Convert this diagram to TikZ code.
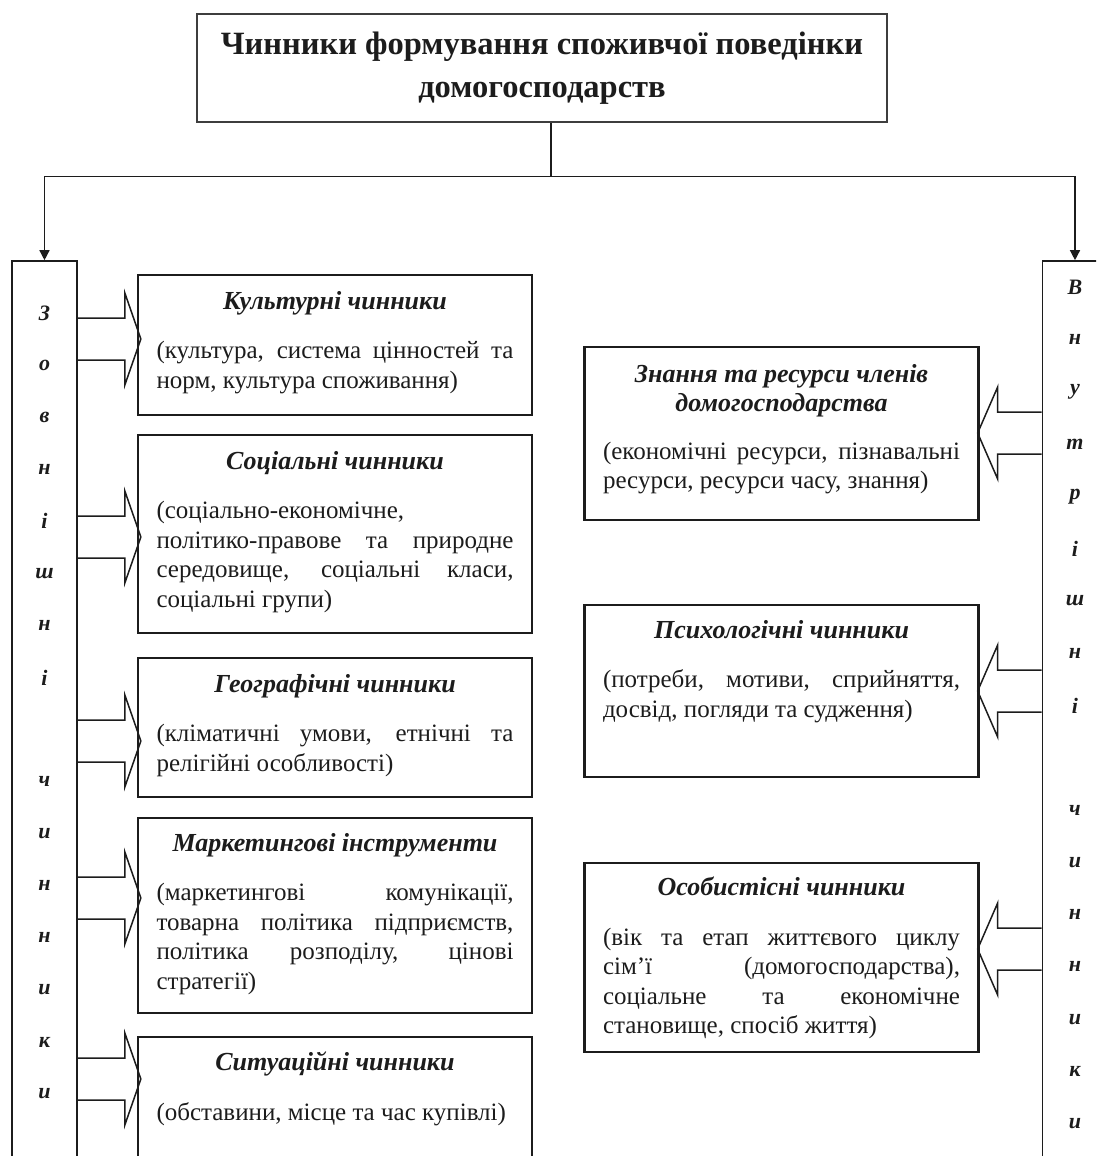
\documentclass[tikz,border=0pt]{standalone}
\usepackage{fontspec}
\setmainfont{Liberation Serif}
\usetikzlibrary{arrows.meta,positioning,calc}
\definecolor{ink}{HTML}{1C1C1C}
\tolerance=10000 \hbadness=10000 \hyphenpenalty=10000 \exhyphenpenalty=10000
\tikzset{
  headbox/.style={draw=ink!85,line width=2.6pt,minimum width=690pt,minimum height=108pt,align=center,font=\fontsize{32.5}{43}\selectfont\bfseries,text=ink},
  sidebox/.style={draw=ink,line width=1.6pt,minimum width=65pt,minimum height=940pt,inner sep=0pt},
  factor/.style={draw=ink,line width=2.3pt,minimum width=394pt,inner sep=0pt},
  factortext/.style={anchor=north,text width=357pt,inner sep=0pt,align=justify,font=\fontsize{25}{29.5}\selectfont,text=ink},
  letter/.style={font=\fontsize{22}{22}\selectfont\bfseries\itshape,text=ink,inner sep=0pt},
  link/.style={draw=ink,line width=1.4pt,-{Triangle[length=10pt,width=10pt]}},
  fatright/.style={draw=ink,line width=1.5pt,to path={let \p1=(\tikztostart),\p2=(\tikztotarget) in
    (\x1,\y1+21pt) -- (\x2-12pt,\y1+21pt) -- (\x2-12pt,\y1+46pt) -- (\x2+4pt,\y1) -- (\x2-12pt,\y1-46pt) -- (\x2-12pt,\y1-21pt) -- (\x1,\y1-21pt)}},
  fatleft/.style={draw=ink,line width=1.5pt,to path={let \p1=(\tikztostart),\p2=(\tikztotarget) in
    (\x1,\y1+21pt) -- (\x2+18pt,\y1+21pt) -- (\x2+18pt,\y1+46pt) -- (\x2-2pt,\y1) -- (\x2+18pt,\y1-46pt) -- (\x2+18pt,\y1-21pt) -- (\x1,\y1-21pt)}}
}
\newcommand{\ftitle}[2][20pt]{{\centering\fontsize{26}{29.5}\selectfont\bfseries\itshape #2\par}\vspace{#1}}

\begin{document}
\begin{tikzpicture}[x=1pt,y=-1pt]
  \useasboundingbox (0,0) rectangle (1096,1156);
  \clip (0,0) rectangle (1096,1156);

  \node[headbox] (title) at (542,68) {Чинники формування споживчої поведінки\\домогосподарств};
  \node[sidebox] (ext) at (44.5,731) {};
  \node[sidebox] (int) at (1075,731) {};

  \draw[draw=ink,line width=1.4pt] ([xshift=9pt]title.south) -- ++(0,53) coordinate (split);
  \draw[link] (split) -| (ext.north);
  \draw[link] (split) -| (int.north);

  \foreach \c [count=\i from 0] in {З,о,в,н,і,ш,н,і,{},ч,и,н,н,и,к,и}
    \node[letter] (ext-\i) at (44.5,313+52.07*\i) {\c};
  \foreach \c [count=\i from 0] in {В,н,у,т,р,і,ш,н,і,{},ч,и,н,н,и,к,и}
    \node[letter] (int-\i) at (1075,287+52.3*\i) {\c};

  % outside factors
  \node[factor,minimum height=140pt] (cult) at (335,345) {};
  \node[factortext] (cult-t) at ([yshift=-17pt]cult.north) {\ftitle{Культурні чинники}(культура, система цінностей та\linebreak норм, культура споживання)};
  \node[factor,minimum height=198pt] (soc) at (335,534) {};
  \node[factortext] (soc-t) at ([yshift=-17pt]soc.north) {\ftitle{Соціальні чинники}(соціально-економічне,\newline політико-правове та природне\linebreak середовище, соціальні класи,\linebreak соціальні групи)};
  \node[factor,minimum height=139pt] (geo) at (335,727.5) {};
  \node[factortext] (geo-t) at ([yshift=-17pt]geo.north) {\ftitle{Географічні чинники}(кліматичні умови, етнічні та\linebreak релігійні особливості)};
  \node[factor,minimum height=195pt] (mark) at (335,915.5) {};
  \node[factortext] (mark-t) at ([yshift=-16pt]mark.north) {\ftitle{Маркетингові інструменти}(маркетингові комунікації,\linebreak товарна політика підприємств,\linebreak політика розподілу, цінові\linebreak стратегії)};
  \node[factor,minimum height=133pt] (sit) at (335,1103.5) {};
  \node[factortext] (sit-t) at ([yshift=-16pt]sit.north) {\ftitle{Ситуаційні чинники}(обставини, місце та час купівлі)};

  % inside factors
  \node[factor,minimum height=173pt] (know) at (781.5,433.5) {};
  \node[factortext] (know-t) at ([yshift=-18pt]know.north) {\ftitle[18pt]{Знання та ресурси членів\\домогосподарства}(економічні ресурси, пізнавальні\linebreak ресурси, ресурси часу, знання)};
  \node[factor,minimum height=172pt] (psy) at (781.5,691) {};
  \node[factortext] (psy-t) at ([yshift=-16pt]psy.north) {\ftitle{Психологічні чинники}(потреби, мотиви, сприйняття,\linebreak досвід, погляди та судження)};
  \node[factor,minimum height=189pt] (pers) at (781.5,957.5) {};
  \node[factortext] (pers-t) at ([yshift=-15pt]pers.north) {\ftitle{Особистісні чинники}(вік та етап життєвого циклу\linebreak сім’ї (домогосподарства),\linebreak соціальне та економічне\linebreak становище, спосіб життя)};

  \draw[fatright] (ext.east |- 0,339) to (cult.west |- 0,339);
  \draw[fatright] (ext.east |- 0,537) to (soc.west |- 0,537);
  \draw[fatright] (ext.east |- 0,741) to (geo.west |- 0,741);
  \draw[fatright] (ext.east |- 0,898) to (mark.west |- 0,898);
  \draw[fatright] (ext.east |- 0,1079) to (sit.west |- 0,1079);
  \draw[fatleft] (int.west |- 0,433) to (know.east |- 0,433);
  \draw[fatleft] (int.west |- 0,691) to (psy.east |- 0,691);
  \draw[fatleft] (int.west |- 0,949) to (pers.east |- 0,949);
\end{tikzpicture}
\end{document}
